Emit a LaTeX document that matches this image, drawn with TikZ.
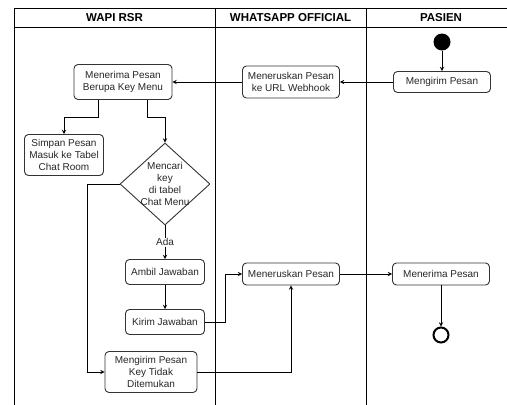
\documentclass[tikz,border=0pt]{standalone}
\usepackage{fontspec}
\setmainfont{Liberation Sans}
\usetikzlibrary{positioning, arrows, shapes.geometric}

\begin{document}
\begin{tikzpicture}[
    x=1pt, y=1pt,
    ->, >=stealth, node distance=50pt, line width=0.9pt,
    font=\fontsize{10}{12}\selectfont,
    box/.style={draw=black!80, text=black!85, rounded corners=4pt, align=center, inner sep=2pt},
    lane/.style={font=\fontsize{11.5}{13}\selectfont\bfseries},
    startdot/.style={circle, fill=black, minimum size=17pt, inner sep=0pt},
    enddot/.style={circle, draw, line width=2pt, minimum size=15pt, inner sep=0pt},
    decision/.style={diamond, draw=black!80, minimum width=90pt, minimum height=82pt, inner sep=0pt}
]
    \useasboundingbox (0,0) rectangle (507,-405);

    % Swimlanes
    \draw[-] (14,-8) -- (507,-8) (14,-27) -- (507,-27);
    \draw[-] (14,-8) -- (14,-405) (215,-8) -- (215,-405) (366,-8) -- (366,-405);
    \node[lane] (WAPI) at (114.5,-17.5) {WAPI RSR};
    \node[lane] (WAOFF) at (290.5,-17.5) {WHATSAPP OFFICIAL};
    \node[lane] (PASIEN) at (441,-17.5) {PASIEN};

    % Top Level
    \node[startdot] (START) at (442,-42) {};
    \node[box, below of=START, node distance=40pt, minimum width=97pt, minimum height=21pt] (KIRIM) {Mengirim Pesan};
    \node[box, left of=KIRIM, node distance=151pt, minimum width=97pt, minimum height=32pt] (WEBHOOK) {Meneruskan Pesan\\ke URL Webhook};
    \node[box, left of=WEBHOOK, node distance=168pt, minimum width=98pt, minimum height=35pt] (TERIMAKEY) {Menerima Pesan\\Berupa Key Menu};

    % Second Level
    \node[box, below of=TERIMAKEY, node distance=73pt, xshift=-59pt, minimum width=79pt, minimum height=41pt] (SIMPAN) {Simpan Pesan\\Masuk ke Tabel\\Chat Room};
    \node[decision, below of=TERIMAKEY, node distance=102pt, xshift=42pt,
          label={[align=center, text=black!85]center:Mencari\\key\\di tabel\\Chat Menu}] (CARI) {};

    % Bottom Level
    \node[box, below of=CARI, node distance=88pt, minimum width=79pt, minimum height=25pt] (AMBIL) {Ambil Jawaban};
    \node[box, below of=AMBIL, minimum width=79pt, minimum height=25pt] (KIRIMJWB) {Kirim Jawaban};
    \node[box, below of=KIRIMJWB, xshift=-14pt, minimum width=92pt, minimum height=41pt] (TIDAK) {Mengirim Pesan\\Key Tidak\\Ditemukan};
    \node[box, below of=WEBHOOK, node distance=192pt, minimum width=97pt, minimum height=22pt] (TERUSKAN) {Meneruskan Pesan};
    \node[box, right of=TERUSKAN, node distance=150pt, minimum width=97pt, minimum height=22pt] (TERIMA) {Menerima Pesan};
    \node[enddot, below of=TERIMA, node distance=61pt] (END) {};

    % Edges
    \draw (START) -- (KIRIM);
    \draw (KIRIM) -- (WEBHOOK);
    \draw (WEBHOOK) -- (TERIMAKEY);
    \draw ([xshift=-25pt]TERIMAKEY.south) -- ++(0,-17.5) -| (SIMPAN.north);
    \draw ([xshift=24pt]TERIMAKEY.south) -- ++(0,-17.5) -| (CARI.north);
    \draw (CARI.south) -- node[fill=white, inner sep=1pt, text=black!85] {Ada} (AMBIL);
    \draw (AMBIL) -- (KIRIMJWB);
    \draw (KIRIMJWB.east) -- ++(20,0) |- (TERUSKAN.west);
    \draw (CARI.west) -- ++(-32,0) |- (TIDAK.west);
    \draw (TIDAK.east) -| (TERUSKAN.south);
    \draw (TERUSKAN) -- (TERIMA);
    \draw (TERIMA) -- (END);

\end{tikzpicture}
\end{document}
